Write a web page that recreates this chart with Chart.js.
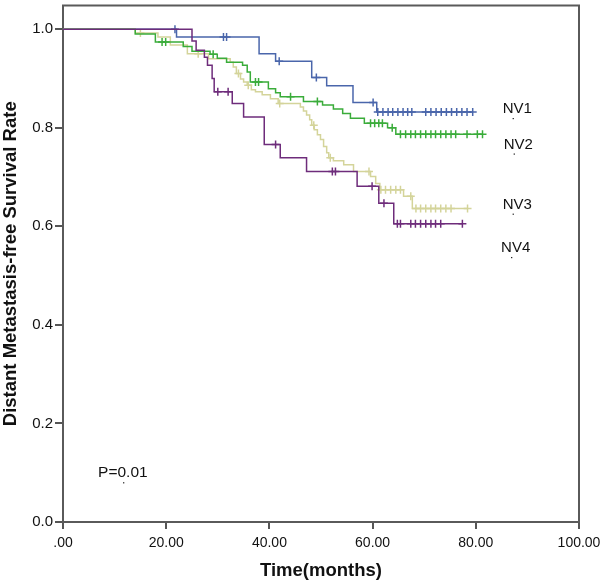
<!DOCTYPE html>
<html>
<head>
<meta charset="utf-8">
<script src="https://cdn.jsdelivr.net/npm/chart.js@4.4.1/dist/chart.umd.min.js"></script>
<style>
  html, body { margin: 0; padding: 0; background: #fff; }
  canvas { display: block; }
</style>
</head>
<body>
<canvas id="kmChart" width="600" height="582"></canvas>
<script>
// 축 눈금
const timeTicks = [0, 20, 40, 60, 80, 100];
const rateTicks = [0, 0.2, 0.4, 0.6, 0.8, 1.0];
const groupNames = ['NV1', 'NV2', 'NV3', 'NV4'];
const pValueText = 'P=0.01';

// NV1 : 사건 시점 / 생존율 / 중도절단 시점
const nv1Time = [0, 22.0, 38.0, 41.2, 48.2, 51.1, 56.2, 60.8];
const nv1Rate = [1.0, 0.984, 0.950, 0.935, 0.902, 0.885, 0.851, 0.832];
const nv1Censor = [21.7, 31.1, 31.7, 41.9, 49.1, 60.1, 61.0, 62.0, 63.0, 63.9, 64.9, 65.9, 66.8, 67.6,
  70.3, 71.3, 72.3, 73.3, 74.3, 75.3, 76.3, 77.3, 78.3, 79.4];

// NV2
const nv2Time = [0, 14.0, 17.9, 23.3, 25.0, 28.5, 29.9, 31.7, 34.8, 35.7, 36.3, 39.8, 41.2, 42.1,
  46.6, 50.3, 52.4, 54.2, 55.7, 58.4, 62.9, 64.5];
const nv2Rate = [1.0, 0.990, 0.974, 0.965, 0.955, 0.949, 0.941, 0.933, 0.927, 0.913, 0.893, 0.879, 0.871, 0.863,
  0.853, 0.846, 0.838, 0.829, 0.819, 0.809, 0.800, 0.787];
const nv2Censor = [19.2, 19.9, 29.1, 37.3, 37.9, 44.1, 49.3, 59.6, 60.4, 61.2, 61.9, 63.8,
  65.4, 66.4, 67.4, 68.3, 69.3, 70.3, 71.3, 72.2, 73.2, 74.2, 75.2, 76.1, 78.3, 80.3, 81.3];

// NV3
const nv3Time = [0, 14.0, 18.4, 20.8, 24.1, 28.2, 32.4, 33.0, 33.6, 34.4, 35.0, 35.7, 36.5, 37.3, 38.6, 40.2,
  41.7, 46.0, 46.6, 47.2, 47.8, 48.2, 48.7, 49.3, 49.9, 50.5, 51.1, 51.5, 52.4, 54.4, 56.3,
  59.6, 60.6, 61.4, 66.0, 67.7];
const nv3Rate = [1.0, 0.992, 0.984, 0.968, 0.950, 0.940, 0.933, 0.923, 0.910, 0.899, 0.893, 0.886, 0.877, 0.873, 0.867, 0.859,
  0.849, 0.842, 0.834, 0.826, 0.816, 0.805, 0.796, 0.786, 0.776, 0.762, 0.749, 0.739, 0.733, 0.725, 0.711,
  0.701, 0.687, 0.674, 0.661, 0.636];
const nv3Censor = [15.0, 26.2, 34.0, 35.9, 42.0, 48.6, 51.8, 59.3, 61.6, 62.5, 63.5, 64.5, 65.4, 67.4,
  68.4, 69.3, 70.3, 71.3, 72.2, 73.2, 74.2, 75.2, 78.4];

// NV4
const nv4Time = [0, 25.0, 25.8, 27.4, 28.0, 28.9, 29.3, 32.8, 35.0, 39.0, 42.1, 47.2, 57.0, 61.2, 64.1];
const nv4Rate = [1.0, 0.976, 0.957, 0.943, 0.927, 0.900, 0.873, 0.849, 0.822, 0.766, 0.739, 0.711, 0.681, 0.647, 0.605];
const nv4Censor = [30.0, 32.0, 41.2, 52.2, 52.8, 59.9, 62.2, 64.8, 65.4, 67.4, 68.3, 69.3, 70.3, 71.3, 72.2, 73.2, 77.4];

const groupColors = ['#4a66ab', '#3aac3a', '#d4d49a', '#6e2c7b'];
const drawOrder = [4, 2, 3, 1]; // 작은 값이 위에 그려짐
const labelAt = [[85.2, 0.838], [85.4, 0.766], [85.2, 0.644], [84.9, 0.556]];
const pValueAt = [6.8, 0.099];

const FONT = "'Liberation Sans', Arial, sans-serif";

function rateAt(times, rates, t) {
  let r = rates[0];
  for (let i = 0; i < times.length; i++) {
    if (times[i] <= t) r = rates[i];
  }
  return r;
}

function buildCurve(times, rates, censors) {
  const end = Math.max(times[times.length - 1], ...censors);
  const pts = times.map((t, i) => ({ x: t, y: rates[i] }));
  pts.push({ x: end, y: rates[rates.length - 1] });
  return pts;
}

function buildCensor(times, rates, censors) {
  return censors.map((c) => ({ x: c, y: rateAt(times, rates, c) }));
}

const series = [
  [nv1Time, nv1Rate, nv1Censor],
  [nv2Time, nv2Rate, nv2Censor],
  [nv3Time, nv3Rate, nv3Censor],
  [nv4Time, nv4Rate, nv4Censor],
];

const datasets = [];
series.forEach(([times, rates, censors], i) => {
  datasets.push({
    type: 'line',
    label: groupNames[i],
    data: buildCurve(times, rates, censors),
    stepped: 'before',
    borderColor: groupColors[i],
    borderWidth: 1.5,
    pointRadius: 0,
    fill: false,
    order: drawOrder[i],
  });
  datasets.push({
    type: 'scatter',
    label: groupNames[i] + ' censored',
    data: buildCensor(times, rates, censors),
    pointStyle: 'cross',
    pointRadius: 4,
    pointBorderWidth: 1.5,
    borderColor: groupColors[i],
    backgroundColor: groupColors[i],
    order: drawOrder[i],
  });
});

// 테두리 + 곡선 이름, P값 표시
const annotatePlugin = {
  id: 'annotate',
  beforeDatasetsDraw(chart) {
    const { ctx, chartArea } = chart;
    ctx.save();
    ctx.strokeStyle = '#5a5a5a';
    ctx.lineWidth = 2;
    ctx.strokeRect(chartArea.left, chartArea.top, chartArea.right - chartArea.left, chartArea.bottom - chartArea.top);
    ctx.restore();
  },
  afterDatasetsDraw(chart) {
    const { ctx, scales } = chart;
    ctx.save();
    ctx.fillStyle = '#111';
    ctx.font = '15px ' + FONT;
    ctx.textBaseline = 'middle';
    ctx.textAlign = 'left';
    groupNames.forEach((name, i) => {
      const px = scales.x.getPixelForValue(labelAt[i][0]);
      const py = scales.y.getPixelForValue(labelAt[i][1]);
      ctx.fillText(name, px, py);
      ctx.fillRect(px + 10, py + 9, 1.2, 1.2);
    });
    const ppx = scales.x.getPixelForValue(pValueAt[0]);
    const ppy = scales.y.getPixelForValue(pValueAt[1]);
    ctx.font = '15.5px ' + FONT;
    ctx.fillText(pValueText, ppx, ppy);
    ctx.fillRect(ppx + 25, ppy + 9, 1.2, 1.2);
    ctx.restore();
  },
};

new Chart(document.getElementById('kmChart'), {
  data: { datasets },
  options: {
    responsive: false,
    animation: false,
    devicePixelRatio: 1,
    layout: { padding: { top: 3, right: 21, left: 0, bottom: 0 } },
    plugins: {
      legend: { display: false },
      tooltip: { enabled: false },
    },
    scales: {
      x: {
        type: 'linear',
        min: 0,
        max: 100,
        afterBuildTicks: (scale) => { scale.ticks = timeTicks.map((v) => ({ value: v })); },
        afterFit: (scale) => {
          scale.height = 60;
          scale.paddingLeft = 0;
          scale.paddingRight = 0;
        },
        ticks: {
          color: '#111',
          font: { family: FONT, size: 14 },
          padding: 6,
          maxRotation: 0,
          callback: (v) => (v === 0 ? '.00' : v.toFixed(2)),
        },
        grid: { drawOnChartArea: false, drawTicks: true, tickLength: 7, color: '#555', lineWidth: 2 },
        border: { color: '#555', width: 2 },
        title: {
          display: true,
          text: 'Time(months)',
          color: '#111',
          font: { family: FONT, size: 18.5, weight: 'bold' },
          padding: { top: 0, bottom: 0 },
        },
      },
      y: {
        type: 'linear',
        min: 0,
        max: 1.048,
        afterBuildTicks: (scale) => { scale.ticks = rateTicks.map((v) => ({ value: v })); },
        afterFit: (scale) => {
          scale.width = 63;
          scale.paddingTop = 0;
          scale.paddingBottom = 0;
        },
        ticks: {
          color: '#111',
          font: { family: FONT, size: 15 },
          padding: 2,
          callback: (v) => v.toFixed(1),
        },
        grid: { drawOnChartArea: false, drawTicks: true, tickLength: 8, color: '#555', lineWidth: 2 },
        border: { color: '#555', width: 2 },
        title: {
          display: true,
          text: 'Distant Metastasis-free Survival Rate',
          color: '#111',
          font: { family: FONT, size: 18.5, weight: 'bold' },
          padding: { top: 0, bottom: 0 },
        },
      },
    },
  },
  plugins: [annotatePlugin],
});
</script>
</body>
</html>
